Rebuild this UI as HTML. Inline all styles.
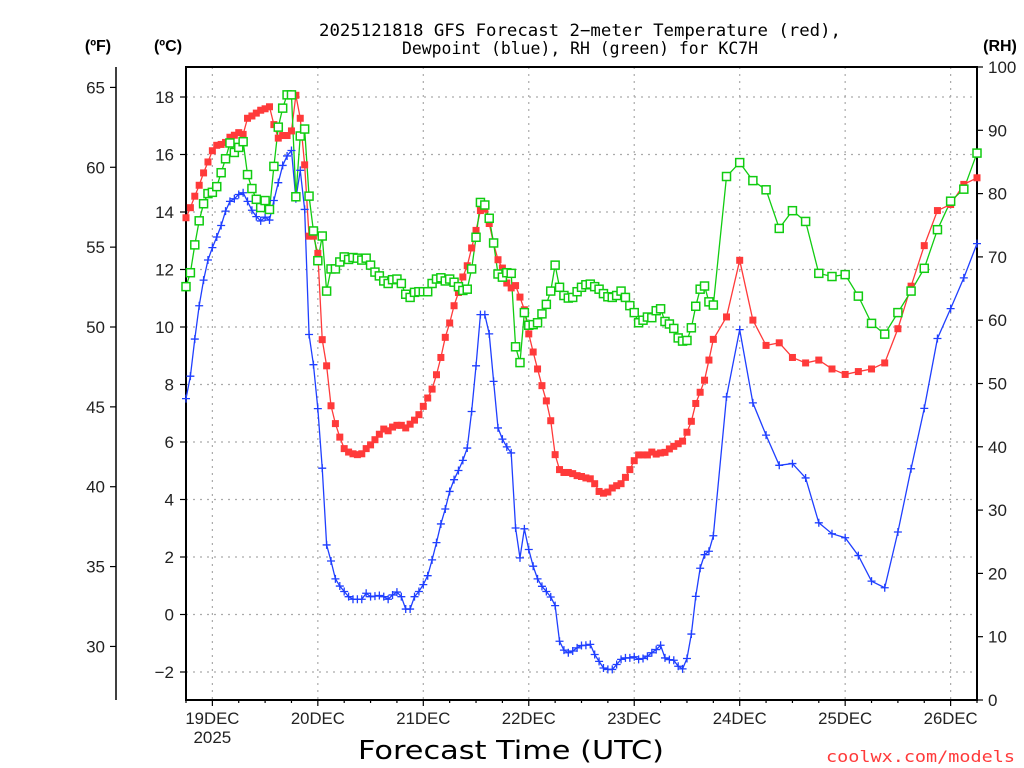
<!DOCTYPE html>
<html><head><meta charset="utf-8"><style>
html,body{margin:0;padding:0;background:#fff;}
svg{display:block;}
text{font-family:"Liberation Sans",sans-serif;}
</style></head><body>
<svg id="chart" width="1024" height="768" viewBox="0 0 1024 768" xmlns="http://www.w3.org/2000/svg">
<text x="580" y="36" text-anchor="middle" font-size="17" style="font-family:'DejaVu Sans Mono','Liberation Mono',monospace" textLength="522" lengthAdjust="spacingAndGlyphs">2025121818 GFS Forecast 2−meter Temperature (red),</text>
<text x="580" y="54" text-anchor="middle" font-size="17" style="font-family:'DejaVu Sans Mono','Liberation Mono',monospace" textLength="356" lengthAdjust="spacingAndGlyphs">Dewpoint (blue), RH (green) for KC7H</text>
<text x="98" y="51" text-anchor="middle" font-size="16" font-weight="bold">(ºF)</text>
<text x="168" y="51" text-anchor="middle" font-size="16" font-weight="bold">(ºC)</text>
<text x="1000" y="51" text-anchor="middle" font-size="16" font-weight="bold">(RH)</text>
<g id="grid"></g><g id="axes"></g><g id="series"></g>
<text x="511" y="759" text-anchor="middle" font-size="26" style="font-family:'DejaVu Sans','Liberation Sans',sans-serif" textLength="306" lengthAdjust="spacingAndGlyphs">Forecast Time (UTC)</text>
<text x="1015" y="762" text-anchor="end" font-size="16" fill="#ff3a3a" style="font-family:'DejaVu Sans Mono','Liberation Mono',monospace" textLength="189" lengthAdjust="spacingAndGlyphs">coolwx.com/models</text>
</svg>
<script>
const hours=[0,1,2,3,4,5,6,7,8,9,10,11,12,13,14,15,16,17,18,19,20,21,22,23,24,25,26,27,28,29,30,31,32,33,34,35,36,37,38,39,40,41,42,43,44,45,46,47,48,49,50,51,52,53,54,55,56,57,58,59,60,61,62,63,64,65,66,67,68,69,70,71,72,73,74,75,76,77,78,79,80,81,82,83,84,85,86,87,88,89,90,91,92,93,94,95,96,97,98,99,100,101,102,103,104,105,106,107,108,109,110,111,112,113,114,115,116,117,118,119,120,123,126,129,132,135,138,141,144,147,150,153,156,159,162,165,168,171,174,177,180];
const tempC=[13.8,14.15,14.55,14.93,15.36,15.74,16.13,16.32,16.35,16.42,16.6,16.67,16.76,16.7,17.26,17.34,17.44,17.54,17.59,17.66,17.04,16.57,16.66,16.66,16.82,18.06,17.26,15.64,13.16,13.16,12.56,9.56,8.65,7.26,6.64,6.17,5.77,5.65,5.59,5.56,5.59,5.77,5.9,6.08,6.27,6.45,6.39,6.52,6.58,6.58,6.49,6.62,6.76,6.95,7.24,7.53,7.84,8.34,8.94,9.64,10.14,10.74,11.2,11.74,12.13,12.75,13.36,14.05,14.1,13.6,12.9,12.34,12.05,11.53,11.36,11.44,11.04,10.6,9.76,9.13,8.54,7.96,7.43,6.74,5.56,5.04,4.94,4.94,4.9,4.83,4.8,4.75,4.72,4.55,4.28,4.22,4.26,4.4,4.48,4.55,4.77,5.04,5.35,5.55,5.55,5.55,5.65,5.58,5.62,5.64,5.76,5.85,5.94,6.03,6.34,6.72,7.34,7.73,8.15,8.85,9.57,10.35,12.32,10.24,9.36,9.45,8.94,8.75,8.85,8.54,8.35,8.45,8.54,8.75,9.94,11.42,12.83,14.05,14.26,14.96,15.19];
const dewC=[7.51,8.29,9.58,10.74,11.63,12.33,12.76,13.13,13.53,14.03,14.37,14.46,14.61,14.67,14.37,14.06,13.84,13.69,13.82,13.72,14.4,15.02,15.62,15.95,16.14,14.46,15.45,14.09,9.74,8.69,7.16,5.09,2.42,1.86,1.24,0.99,0.8,0.62,0.53,0.53,0.53,0.74,0.62,0.64,0.66,0.62,0.53,0.68,0.78,0.62,0.19,0.19,0.62,0.8,1.04,1.35,1.9,2.5,3.15,3.67,4.28,4.69,5.01,5.36,5.79,7.06,8.65,10.43,10.43,9.76,8.11,6.49,6.1,5.83,5.62,3.01,1.97,2.98,2.26,1.68,1.24,0.98,0.8,0.61,0.31,-0.93,-1.24,-1.33,-1.27,-1.16,-1.08,-1.07,-1.04,-1.39,-1.63,-1.86,-1.91,-1.91,-1.74,-1.56,-1.51,-1.51,-1.47,-1.56,-1.53,-1.45,-1.33,-1.22,-1.07,-1.51,-1.57,-1.59,-1.8,-1.89,-1.53,-0.68,0.63,1.61,2.08,2.2,2.74,7.57,9.91,7.36,6.24,5.19,5.25,4.75,3.19,2.81,2.67,2.05,1.16,0.93,2.87,5.07,7.17,9.6,10.64,11.71,12.9];
const rhPct=[65.3,67.5,71.9,75.7,78.4,80.0,80.2,81.1,83.3,85.5,88.0,86.5,87.3,88.2,83.0,80.8,79.1,77.8,78.9,77.5,84.3,90.5,93.5,95.6,95.6,79.5,89.1,90.2,79.6,74.1,69.4,73.3,64.6,68.1,68.1,69.2,70.0,69.6,69.9,69.8,69.5,69.8,68.7,67.6,67.0,66.2,65.8,66.4,66.5,65.8,64.1,63.6,64.4,64.5,64.5,64.5,65.8,66.5,66.7,66.2,66.5,66.0,65.3,64.7,64.9,68.1,73.1,78.6,78.2,76.1,72.2,67.3,66.8,67.5,67.4,55.8,53.3,61.2,59.2,59.3,59.6,61.0,62.5,64.6,68.7,65.2,63.9,63.5,63.6,64.5,65.2,65.6,65.7,65.3,64.9,64.2,63.7,63.6,63.9,64.6,63.6,62.3,61.2,59.6,60.0,60.5,60.4,61.5,61.8,59.8,59.4,58.7,57.2,56.7,56.8,58.8,62.2,64.9,65.4,62.9,62.4,82.7,84.9,82.05,80.6,74.5,77.3,75.6,67.4,66.9,67.2,63.8,59.5,57.8,61.2,64.6,68.2,74.3,78.8,80.7,86.4];
const dayLabels=["19DEC","20DEC","21DEC","22DEC","23DEC","24DEC","25DEC","26DEC"];
const dayHours=[6,30,54,78,102,126,150,174];
const cTicks=[-2,0,2,4,6,8,10,12,14,16,18];
const fTicks=[30,35,40,45,50,55,60,65];
const rhTicks=[0,10,20,30,40,50,60,70,80,90,100];

const L=186,R=977,T=67,B=700;
const xS=h=>L+h*(R-L)/180;
const yC=c=>614.5-28.75*c;
const yF=f=>yC((f-32)*5/9);
const yRH=r=>B-r*(B-T)/100;
const NS="http://www.w3.org/2000/svg";
function mk(tag,attrs,parent){const e=document.createElementNS(NS,tag);for(const k in attrs)e.setAttribute(k,attrs[k]);parent.appendChild(e);return e;}
const grid=document.getElementById('grid'),axes=document.getElementById('axes'),ser=document.getElementById('series');

cTicks.forEach(c=>{const g=mk('line',{x1:L,x2:R,y1:yC(c),y2:yC(c),stroke:'#aaa','stroke-width':1.2,'stroke-dasharray':'2,5'},grid);
});
dayHours.forEach(h=>{const g=mk('line',{x1:xS(h),x2:xS(h),y1:T,y2:B,stroke:'#aaa','stroke-width':1.2,'stroke-dasharray':'2,5'},grid);
});

const frame=mk('rect',{x:L,y:T,width:R-L,height:B-T,fill:'none',stroke:'#000','stroke-width':2},axes);

const fAx=mk('line',{x1:116,x2:116,y1:T,y2:B,stroke:'#000','stroke-width':1.5},axes);


cTicks.forEach(c=>{mk('line',{x1:L-6,x2:L,y1:yC(c),y2:yC(c),stroke:'#000','stroke-width':1.2},axes);
const t=mk('text',{x:L-12,y:yC(c)+6,'text-anchor':'end','font-size':17,fill:'#222'},axes);t.textContent=(c<0?'−'+(-c):c);
});
fTicks.forEach(f=>{mk('line',{x1:110,x2:116,y1:yF(f),y2:yF(f),stroke:'#000','stroke-width':1.2},axes);
const t=mk('text',{x:105,y:yF(f)+6,'text-anchor':'end','font-size':17,fill:'#222'},axes);t.textContent=f;
});
rhTicks.forEach(r=>{mk('line',{x1:R,x2:R+6,y1:yRH(r),y2:yRH(r),stroke:'#000','stroke-width':1.2},axes);
const t=mk('text',{x:988,y:yRH(r)+6,'text-anchor':'start','font-size':17,fill:'#222'},axes);t.textContent=r;
});
for(let h=0;h<=180;h+=6){mk('line',{x1:xS(h),x2:xS(h),y1:B,y2:B+(dayHours.includes(h)?6:3),stroke:'#000','stroke-width':1.2},axes);}
dayLabels.forEach((d,i)=>{const t=mk('text',{x:xS(dayHours[i]),y:724,'text-anchor':'middle','font-size':17,fill:'#222',textLength:54,lengthAdjust:'spacingAndGlyphs'},axes);t.textContent=d;
});
const yr=mk('text',{x:xS(6),y:743,'text-anchor':'middle','font-size':17,fill:'#222'},axes);yr.textContent='2025';


function line(vals,yfn,color,name){const p=mk('polyline',{points:vals.map((v,i)=>xS(hours[i])+','+yfn(v)).join(' '),fill:'none',stroke:color,'stroke-width':1.3},ser);
}
line(dewC,yC,'#1f3fff','dewpoint-line');
line(tempC,yC,'#ff3a3a','temperature-line');
line(rhPct,yRH,'#11cc11','rh-line');
dewC.forEach((v,i)=>{const x=xS(hours[i]),y=yC(v);const g=mk('path',{d:`M${x-4},${y}H${x+4}M${x},${y-4}V${y+4}`,stroke:'#1f3fff','stroke-width':1.3},ser);
});
tempC.forEach((v,i)=>{const g=mk('rect',{x:xS(hours[i])-3.5,y:yC(v)-3.5,width:7,height:7,fill:'#ff3a3a'},ser);
});
rhPct.forEach((v,i)=>{const g=mk('rect',{x:xS(hours[i])-4,y:yRH(v)-4,width:8,height:8,fill:'#fff',stroke:'#11cc11','stroke-width':1.5},ser);
});
</script>
</body></html>
